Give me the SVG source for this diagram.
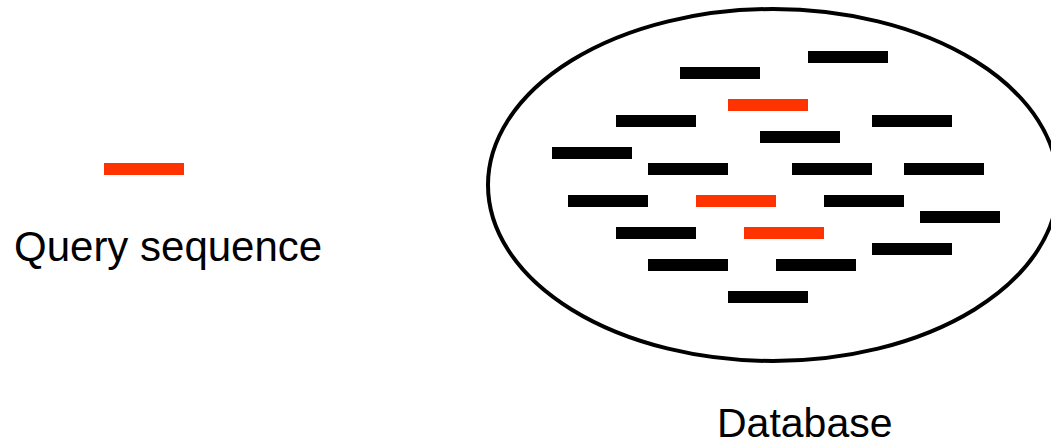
<svg xmlns="http://www.w3.org/2000/svg" width="1051" height="446" viewBox="0 0 1051 446">
<style>
.lbl{font-family:"Liberation Sans",Arial,sans-serif;font-size:42px;fill:#000}
.b{fill:#000}
.r{fill:#ff3300}
</style>
<defs>
<rect id="bar" width="80" height="12"/>
</defs>
<rect width="1051" height="446" fill="#fff"/>
<g id="query">
<use href="#bar" x="104" y="163" class="r"/>
<text class="lbl" x="14" y="261">Query sequence</text>
</g>
<g id="database">
<ellipse cx="773" cy="185" rx="285" ry="176" fill="none" stroke="#000" stroke-width="4"/>
<g class="b">
<use href="#bar" x="680" y="67"/>
<use href="#bar" x="808" y="51"/>
<use href="#bar" x="616" y="115"/>
<use href="#bar" x="872" y="115"/>
<use href="#bar" x="760" y="131"/>
<use href="#bar" x="552" y="147"/>
<use href="#bar" x="648" y="163"/>
<use href="#bar" x="792" y="163"/>
<use href="#bar" x="904" y="163"/>
<use href="#bar" x="568" y="195"/>
<use href="#bar" x="824" y="195"/>
<use href="#bar" x="920" y="211"/>
<use href="#bar" x="616" y="227"/>
<use href="#bar" x="872" y="243"/>
<use href="#bar" x="648" y="259"/>
<use href="#bar" x="776" y="259"/>
<use href="#bar" x="728" y="291"/>
</g>
<g class="r">
<use href="#bar" x="728" y="99"/>
<use href="#bar" x="696" y="195"/>
<use href="#bar" x="744" y="227"/>
</g>
<text class="lbl" x="717" y="437" style="font-size:41px">Database</text>
</g>
<g id="connectors"/>
</svg>
